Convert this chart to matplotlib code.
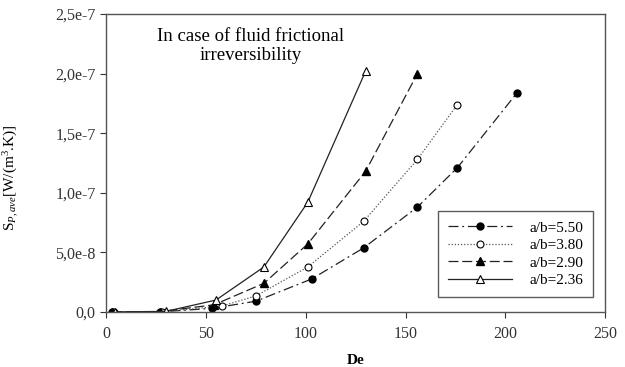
import matplotlib
matplotlib.use('Agg')
import matplotlib.pyplot as plt

plt.rcParams['font.family'] = ['Liberation Serif', 'DejaVu Serif']
plt.rcParams['mathtext.fontset'] = 'custom'
plt.rcParams['mathtext.rm'] = 'Liberation Serif'
plt.rcParams['mathtext.it'] = 'Liberation Serif:italic'

# dane --------------------------------------------------------------------
de_550 = [3, 27, 53, 75, 103, 129, 156, 176, 206]
s_550 = [0.0, 0.1e-9, 3.0e-9, 9.0e-9, 27.7e-9, 53.7e-9, 88e-9, 121e-9, 184e-9]

de_380 = [4, 28, 58, 75, 101, 129, 156, 176]
s_380 = [0.0, 0.2e-9, 5.0e-9, 13.4e-9, 37.7e-9, 76e-9, 128e-9, 174e-9]

de_290 = [3, 27, 54, 79, 101, 130, 156]
s_290 = [0.0, 0.3e-9, 6.0e-9, 24e-9, 57e-9, 118e-9, 200e-9]

de_236 = [4.5, 30, 55, 79, 101, 130]
s_236 = [0.0, 0.5e-9, 10e-9, 37.7e-9, 92e-9, 202e-9]

etykiety = ['a/b=5.50', 'a/b=3.80', 'a/b=2.90', 'a/b=2.36']
y_ticks = [0, 5e-8, 1e-7, 1.5e-7, 2e-7, 2.5e-7]
y_tick_labels = ['0,0', '5,0e-8', '1,0e-7', '1,5e-7', '2,0e-7', '2,5e-7']
x_ticks = [0, 50, 100, 150, 200, 250]

fig = plt.figure(figsize=(6.25, 3.67), dpi=100)
ax = fig.add_axes([0.170, 0.150, 0.798, 0.812])

kol = '#222222'
ax.plot(de_550, s_550, color=kol, lw=0.9, ls=(0, (8, 3, 1.5, 3)), marker='o',
        ms=5, mfc='black', mec='black', label=etykiety[0])
ax.plot(de_380, s_380, color='#555555', lw=0.9, ls=(0, (1, 1.5)), marker='o',
        ms=5, mfc='white', mec='black', mew=0.8, label=etykiety[1])
ax.plot(de_290, s_290, color=kol, lw=0.9, ls=(0, (8, 3)), marker='^',
        ms=6, mfc='black', mec='black', label=etykiety[2])
ax.plot(de_236, s_236, color=kol, lw=0.9, ls='-', marker='^',
        ms=6, mfc='white', mec='black', mew=0.8, label=etykiety[3])

ax.set_xlim(0, 250)
ax.set_ylim(0, 2.5e-7)
ax.set_xticks(x_ticks)
ax.set_yticks(y_ticks)
ax.set_yticklabels(y_tick_labels)
ax.tick_params(direction='out', length=4, labelsize=11.5, colors='#333333')
ax.tick_params(axis='x', pad=6)
for s in ax.spines.values():
    s.set_color('#555555')
    s.set_linewidth(1.0)

ax.set_xlabel('De', fontsize=11, fontweight='bold', labelpad=9)
ax.set_ylabel(r'S$_{P,ave}$[W/(m$^3$.K)]', fontsize=11, labelpad=14)
ax.yaxis.set_label_coords(-0.17, 0.45)

ax.text(0.289, 0.893, 'In case of fluid frictional\nirreversibility', transform=ax.transAxes,
        ha='center', va='center', fontsize=13.5, linespacing=1.2)

leg = ax.legend(loc='lower right', bbox_to_anchor=(0.976, 0.05), fontsize=11,
                handlelength=4.2, frameon=True, fancybox=False, borderpad=0.65,
                labelspacing=0.25, handletextpad=1.1, borderaxespad=0)
leg.get_frame().set_edgecolor('#333333')
leg.get_frame().set_linewidth(1.0)

fig.savefig('out.png', dpi=100)
